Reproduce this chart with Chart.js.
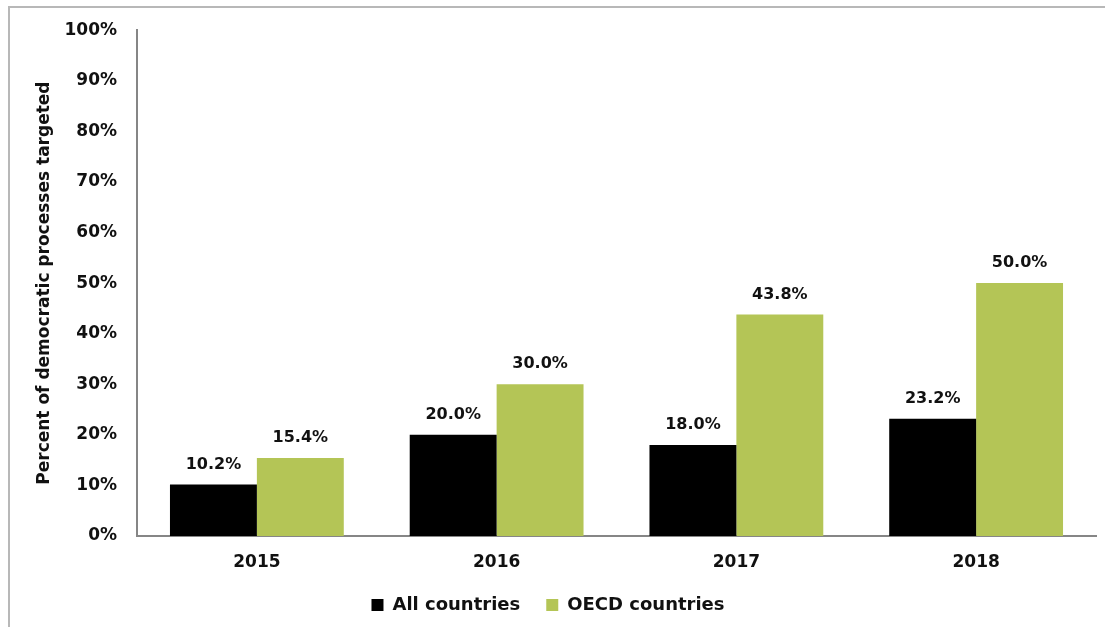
<!DOCTYPE html>
<html>
<head>
<meta charset="utf-8">
<script src="https://cdn.jsdelivr.net/npm/chart.js@4/dist/chart.umd.min.js"></script>
<style>
  html, body { margin: 0; padding: 0; background: #fff; overflow: hidden; }
  #marco { position: absolute; left: 8px; top: 6px; width: 1200px; height: 700px; border: 2px solid #b8b8b8; }
  #caja { position: absolute; left: 0; top: 0; width: 1105px; height: 627px; }
</style>
</head>
<body>
<div id="marco"></div>
<div id="caja"><canvas id="chartProcesos"></canvas></div>
<script>
// Datos
const anios = ["2015", "2016", "2017", "2018"];
const todos_paises = [10.2, 20.0, 18.0, 23.2];
const paises_ocde = [15.4, 30.0, 43.8, 50.0];
const etiquetas_series = ["All countries", "OECD countries"];

const fuente = "'DejaVu Sans', sans-serif";

// Escribe el valor encima de cada barra
const etiquetasValor = {
  id: 'etiquetasValor',
  afterDatasetsDraw(chart) {
    const ctx = chart.ctx;
    ctx.save();
    ctx.font = "bold 16px " + fuente;
    ctx.fillStyle = "#111";
    ctx.textAlign = "center";
    ctx.textBaseline = "bottom";
    chart.data.datasets.forEach((ds, i) => {
      chart.getDatasetMeta(i).data.forEach((bar, j) => {
        ctx.fillText(ds.data[j].toFixed(1) + "%", bar.x, bar.y - 12);
      });
    });
    ctx.restore();
  }
};

function grafico_procesos() {
  const canvas = document.getElementById('chartProcesos');
  new Chart(canvas, {
    type: 'bar',
    data: {
      labels: anios,
      datasets: [
        {
          label: etiquetas_series[0],
          backgroundColor: "#000000",
          data: todos_paises
        },
        {
          label: etiquetas_series[1],
          backgroundColor: "#b4c556",
          data: paises_ocde
        }
      ]
    },
    options: {
      responsive: false,
      animation: false,
      devicePixelRatio: 1,
      categoryPercentage: 0.725,
      barPercentage: 1,
      layout: { padding: { top: 29, right: 9, left: 0, bottom: 3 } },
      plugins: {
        tooltip: { enabled: false },
        legend: {
          position: 'bottom',
          labels: {
            color: "#111",
            font: { family: fuente, size: 18, weight: 'bold' },
            boxWidth: 12,
            boxHeight: 12,
            padding: 26
          }
        }
      },
      scales: {
        x: {
          grid: { display: false, drawTicks: false },
          border: { color: "#868686", width: 2 },
          ticks: { color: "#111", padding: 16, font: { family: fuente, size: 17, weight: 'bold' } },
          afterFit: (s) => { s.height = 34; }
        },
        y: {
          min: 0,
          max: 100,
          grid: { display: false, drawTicks: false },
          border: { color: "#868686", width: 2 },
          ticks: {
            stepSize: 10,
            color: "#111",
            padding: 20,
            font: { family: fuente, size: 17, weight: 'bold' },
            callback: (v) => v + "%"
          },
          title: {
            display: true,
            text: "Percent of democratic processes targeted",
            color: "#111",
            font: { family: fuente, size: 17, weight: 'bold' },
            padding: { top: 34, bottom: 0 }
          },
          afterFit: (s) => { s.width = 137; }
        }
      }
    },
    plugins: [etiquetasValor]
  });
}

const c = document.getElementById('chartProcesos');
c.width = 1105;
c.height = 627;
grafico_procesos();
</script>
</body>
</html>
